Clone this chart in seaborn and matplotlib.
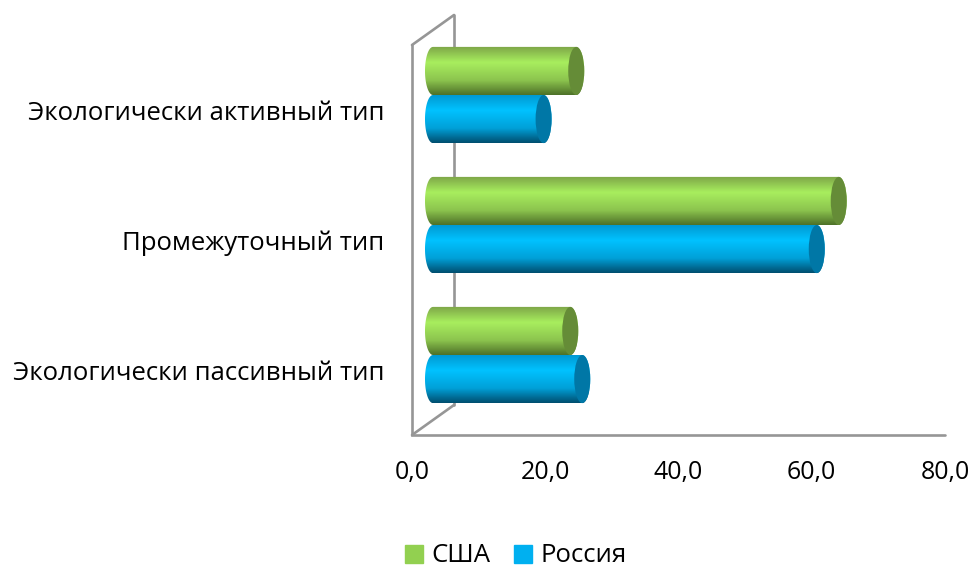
import numpy as np
import pandas as pd
import matplotlib
matplotlib.use('Agg')
import matplotlib.pyplot as plt
import seaborn as sns
from matplotlib.patches import Ellipse, Patch, Polygon
from matplotlib.transforms import Affine2D

# data
types = ['Экологически активный тип', 'Промежуточный тип', 'Экологически пассивный тип']
usa = [21.5, 60.9, 20.6]
russia = [16.6, 57.6, 22.4]
x_ticks = [0, 20, 40, 60, 80]
x_labels = ['0,0', '20,0', '40,0', '60,0', '80,0']

df = pd.DataFrame({
    'type': types * 2,
    'value': usa + russia,
    'country': ['США'] * 3 + ['Россия'] * 3,
})

sns.set_theme(style='white')
plt.rcParams['font.family'] = ['Open Sans', 'DejaVu Sans']

W, H = 970, 569
fig = plt.figure(figsize=(W / 100, H / 100), dpi=100)
ax = fig.add_axes([412 / W, 1 - 435 / H, 533 / W, 390 / H])

legend_colors = {'США': '#92d050', 'Россия': '#00b0f0'}
sns.barplot(data=df, y='type', x='value', hue='country', hue_order=['США', 'Россия'],
            palette=legend_colors, width=0.74, gap=0, saturation=1, legend=False, ax=ax)

ax.set_xlabel('')
ax.set_ylabel('')

# bars sit in the middle of the fake 3d box, pixels
shift = ax.transData + Affine2D().translate(21, 15)
cap_rx = 8 / (533 / 80)  # half width of the end ellipse, in data units

# light/dark bands for the cylinders, top to bottom
shades = {
    'США': (['#7da548', '#a8ee5e', '#8cc44e', '#4f7229'], '#658c37'),
    'Россия': (['#0097d0', '#00c2ff', '#00a0d8', '#004f70'], '#0077a6'),
}
stops = [0, 0.33, 0.7, 1]

theta = np.linspace(-np.pi / 2, np.pi / 2, 40)
for container, name in zip(ax.containers, ['США', 'Россия']):
    band, cap_color = shades[name]
    cmap = matplotlib.colors.LinearSegmentedColormap.from_list(name, list(zip(stops, band)))
    for bar in container:
        x0, y0 = bar.get_x(), bar.get_y()
        w, h = bar.get_width(), bar.get_height()
        bar.set_visible(False)
        yc = y0 + h / 2
        # capsule outline so both ends come out round
        right = np.c_[x0 + w + cap_rx * np.cos(theta), yc + h / 2 * np.sin(theta)]
        left = np.c_[x0 - cap_rx * np.cos(theta[::-1]), yc + h / 2 * np.sin(theta[::-1])]
        outline = Polygon(np.r_[right, left], closed=True, transform=shift, fc='none', ec='none')
        ax.add_patch(outline)
        im = ax.imshow(np.linspace(0, 1, 64)[:, None], cmap=cmap, aspect='auto',
                       extent=(x0 - cap_rx, x0 + w + cap_rx, y0 + h, y0),
                       transform=shift, zorder=3, interpolation='bilinear')
        im.set_clip_path(outline)
        ax.add_patch(Ellipse((x0 + w, yc), 2 * cap_rx, h, transform=shift,
                             fc=cap_color, ec='none', zorder=3.1, clip_on=False))

ax.set_xlim(0, 80)
ax.set_ylim(2.5, -0.5)

# box walls and floor line
grey = '#969696'
ax.plot([0, 0, 1], [1, 0, 0], color=grey, lw=1.9, transform=ax.transAxes, clip_on=False,
        solid_joinstyle='miter', zorder=2)
back = ax.transAxes + Affine2D().translate(42, 30)
ax.plot([0, 0], [0, 1], color=grey, lw=1.9, transform=back, clip_on=False, zorder=2)

# the two slanted edges joining front and back planes
for ya in [0, 1]:
    p0 = ax.transAxes.transform((0, ya))
    ax.plot([p0[0], p0[0] + 42], [p0[1], p0[1] + 30], color=grey, lw=1.9,
            transform=None, clip_on=False, zorder=2)

for side in ax.spines.values():
    side.set_visible(False)

ax.set_xticks(x_ticks)
ax.set_xticklabels(x_labels)
ax.tick_params(axis='x', length=0, pad=18, labelsize=18, labelcolor='black')
ax.tick_params(axis='y', length=0, pad=20, labelsize=18.5, labelcolor='black')

handles = [Patch(color=c, label=k) for k, c in legend_colors.items()]
fig.legend(handles=handles, loc='center', bbox_to_anchor=(516 / W, 1 - 556 / H), ncol=2, frameon=False,
           fontsize=18.5, labelcolor='black', handlelength=0.7, handleheight=0.7,
           handletextpad=0.35, columnspacing=0.9, borderpad=0, borderaxespad=0)

fig.savefig('out.png', dpi=100)
